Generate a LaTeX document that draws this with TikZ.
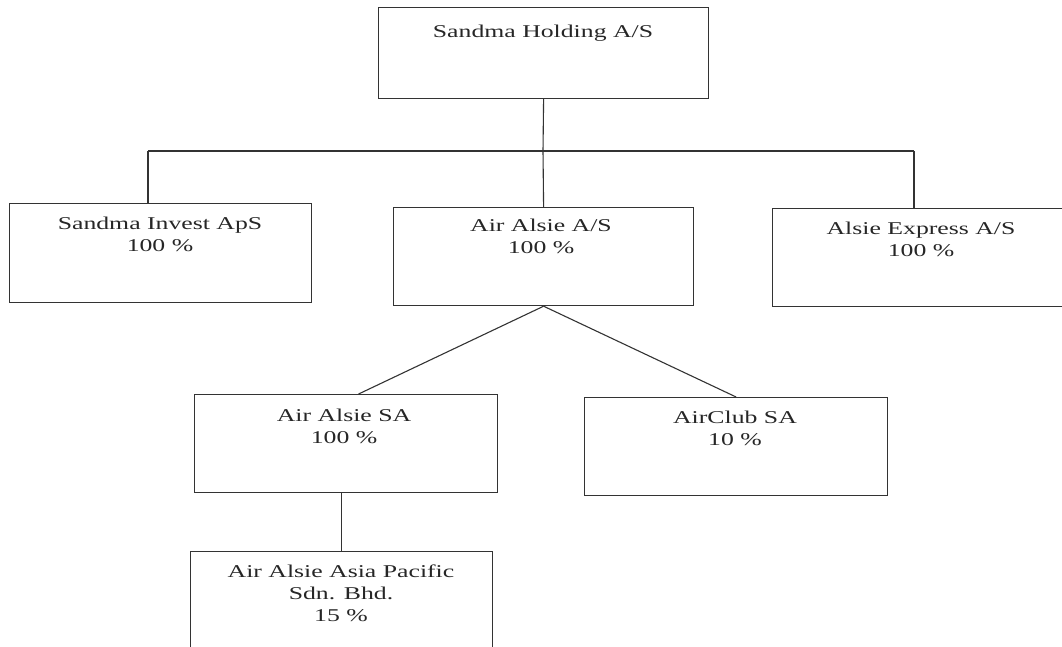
\documentclass[tikz,border=0pt]{standalone}
\usepackage{fontspec}
\setmainfont{Liberation Serif}[FakeStretch=1.43]
\usetikzlibrary{calc}
\definecolor{ink}{HTML}{333333}
\definecolor{txt}{HTML}{262626}
\begin{document}
\begin{tikzpicture}[x=1pt,y=-1pt,
  box/.style={draw=ink,line width=1.2pt,rectangle,inner sep=0pt,anchor=north west},
  lbl/.style={anchor=north,inner sep=0pt,align=center,text=txt,font=\fontsize{18}{22}\selectfont},
  conn/.style={draw=ink,line width=1.1pt}]
\useasboundingbox (0,0) rectangle (1062,647);
% boxes
\node[box,minimum width=330pt,minimum height=91pt] (hold) at (378,7) {};
\node[box,minimum width=302pt,minimum height=99pt] (inv) at (9,203) {};
\node[box,minimum width=300pt,minimum height=98pt] (aas) at (393,207) {};
\node[box,minimum width=298pt,minimum height=98pt] (exp) at (772,208) {};
\node[box,minimum width=303pt,minimum height=98pt] (sa) at (194,394) {};
\node[box,minimum width=303pt,minimum height=98pt] (club) at (584,397) {};
\node[box,minimum width=302pt,minimum height=110pt] (asia) at (190,551) {};
% labels
\node[lbl] (tHold) at (543,21.6) {\strut Sandma Holding A/S};
\node[lbl] (tInv) at (160,213.6) {\strut Sandma Invest ApS\\\strut 100 \%};
\node[lbl] (tAas) at (541,215.6) {\strut Air Alsie A/S\\\strut 100 \%};
\node[lbl] (tExp) at (921,218.6) {\strut Alsie Express A/S\\\strut 100 \%};
\node[lbl] (tSa) at (344,405.6) {\strut Air Alsie SA\\\strut 100 \%};
\node[lbl] (tClub) at (735,407.6) {\strut AirClub SA\\\strut 10 \%};
\node[lbl] (tAsia) at (341,561.6) {\strut Air Alsie Asia Pacific\\\strut Sdn. Bhd.\\\strut 15 \%};
% bus
\coordinate (bL) at (148,151);
\coordinate (bR) at (914,151);
\coordinate (bM) at (543,151);
\draw[conn] (hold.south) -- (bM);
\draw[conn] (bL) -- (bR);
\draw[conn] (bL) -- (bL |- inv.north);
\draw[conn] (bM) -- (aas.north);
\draw[conn] (bR) -- (bR |- exp.north);
% second level
\coordinate (saTop) at ($(sa.north)+(12.5,0)$);
\draw[conn] (aas.south) -- (saTop);
\draw[conn] (aas.south) -- (club.north);
\draw[conn] (asia.north |- sa.south) -- (asia.north);
\end{tikzpicture}
\end{document}
